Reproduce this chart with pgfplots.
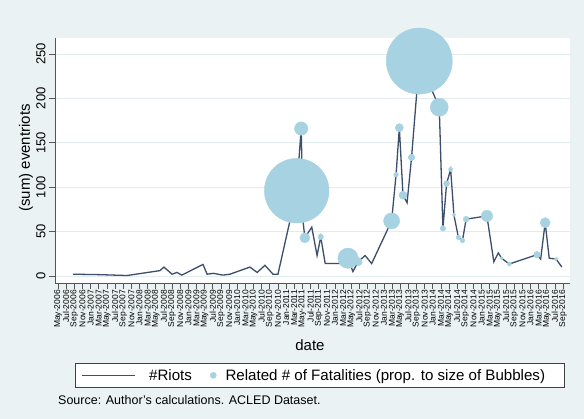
\documentclass[border=0pt]{standalone}
\usepackage{fontspec}
\setmainfont{Liberation Sans}
\usepackage{pgfplots}
\pgfplotsset{compat=1.18}
\usepackage{pgfplotstable}

\definecolor{bgblue}{RGB}{234,242,243}
\definecolor{gridc}{RGB}{226,236,239}
\definecolor{riotline}{RGB}{60,78,106}
\definecolor{bubble}{RGB}{166,210,226}
\definecolor{axisc}{RGB}{85,85,85}

% monthly riot counts (month 0 = May 2006)
\pgfplotstableread{
month riots
3.7   2
10.3  1.5
16.9  0.5
25.0  6
26.0  10
28.0  2
29.2  4
30.4  1
35.6  13
36.6  2
38.1  3
40.5  1
42.2  2
47.1  10
48.9  4
50.8  12
52.8  2
54.0  2
58.6  96
59.7  166
60.2  60
60.6  43
62.3  55
63.6  23
64.5  44
65.6  14
69.2  14
71.2  20
72.4  5
73.7  16
75.4  23
77.0  14
81.9  62
83.0  114
83.8  167
84.7  91
85.7  82.5
86.8  133.5
88.7  242
93.6  190
94.5  53.6
95.4  104
96.4  120
97.2  68.7
98.3  43.5
99.3  40
100.2 64
105.3 67.6
107.0 16
108.1 26
108.9 20
110.8 13.5
117.6 24
118.5 19
119.6 60
120.6 20
122.3 19
123.7 10
}\riots

% months with fatalities: riot count and number of fatalities
\pgfplotstableread{
month riots fat
58.6  96    957
59.7  166   41
60.6  43    23
64.5  44    7
71.2  20    95
73.7  16    15
81.9  62    59
83.0  114   5
83.8  167   15
84.7  91    15
86.8  133.5 10
88.7  242   1000
93.6  190   74
94.5  53.6  7
95.4  104   8
96.4  120   4
97.2  68.7  3
98.3  43.5  5
99.3  40    5
100.2 64    8
105.3 67.6  30
108.9 20    3
110.8 13.5  4
117.6 24    10
119.6 60    23
122.3 19    3
}\fatal

\begin{document}
\begin{tikzpicture}
\fill[bgblue] (0pt,0pt) rectangle (584pt,419pt);
\begin{axis}[
  at={(55pt,136pt)}, anchor=south west,
  scale only axis, width=515pt, height=245pt,
  axis background/.style={fill=white},
  clip=false,
  xmin=-0.74, xmax=125.7, ymin=-7.9, ymax=268,
  axis lines*=left,
  axis line style={axisc, line width=0.7pt},
  tick style={axisc, line width=0.7pt},
  tick align=outside, major tick length=6pt,
  ytick={0,50,...,250},
  ymajorgrids, major grid style={gridc, line width=0.9pt},
  /pgf/number format/assume math mode=true,
  yticklabel style={rotate=90, anchor=south, font=\fontsize{13}{14}\selectfont},
  xtick={0,2,...,124},
  xticklabels={May-2006,Jul-2006,Sep-2006,Nov-2006,
    Jan-2007,Mar-2007,May-2007,Jul-2007,Sep-2007,Nov-2007,
    Jan-2008,Mar-2008,May-2008,Jul-2008,Sep-2008,Nov-2008,
    Jan-2009,Mar-2009,May-2009,Jul-2009,Sep-2009,Nov-2009,
    Jan-2010,Mar-2010,May-2010,Jul-2010,Sep-2010,Nov-2010,
    Jan-2011,Mar-2011,May-2011,Jul-2011,Sep-2011,Nov-2011,
    Jan-2012,Mar-2012,May-2012,Jul-2012,Sep-2012,Nov-2012,
    Jan-2013,Mar-2013,May-2013,Jul-2013,Sep-2013,Nov-2013,
    Jan-2014,Mar-2014,May-2014,Jul-2014,Sep-2014,Nov-2014,
    Jan-2015,Mar-2015,May-2015,Jul-2015,Sep-2015,Nov-2015,
    Jan-2016,Mar-2016,May-2016,Jul-2016,Sep-2016},
  xticklabel style={rotate=90, anchor=east, inner sep=1pt, font=\fontsize{8.5}{9}\selectfont},
  xlabel={date},
  ylabel={(sum) eventriots},
  label style={font=\fontsize{15}{17}\selectfont},
  x label style={at={(axis description cs:0.495,-0.253)}, anchor=center},
  y label style={at={(axis description cs:-0.0563,0.51)}, anchor=center},
  legend columns=2,
  legend style={at={(axis description cs:0.0388,-0.377)}, anchor=west,
    draw=black!75, line width=0.6pt, fill=white,
    font=\fontsize{15.1}{16.5}\selectfont,
    inner xsep=6pt, inner ysep=3.5pt,
    /tikz/column 1/.style={column sep=12pt},
    /tikz/column 2/.style={column sep=16pt},
    /tikz/column 3/.style={column sep=7pt}},
]
\addplot[riotline, line width=1.3pt,
  legend image code/.code={\draw[riotline, line width=0.9pt] (0pt,0pt) -- (53pt,0pt);}]
  table[x=month, y=riots] {\riots};
\addlegendentry{\#Riots}

\addplot[scatter, only marks, mark=*, forget plot,
  scatter/use mapped color={draw=bubble, fill=bubble},
  visualization depends on={1.044*sqrt(\thisrow{fat}) \as \rad},
  scatter/@pre marker code/.append style={/tikz/mark size=\rad}]
  table[x=month, y=riots] {\fatal};

\addlegendimage{legend image code/.code={\fill[bubble] (3pt,0pt) circle (3pt);}}
\addlegendentry{Related \# of Fatalities (prop. to size of Bubbles)\hspace*{11pt}}
\end{axis}
\node[anchor=west, inner sep=0pt, font=\fontsize{12.5}{14}\selectfont] at (58pt,19.2pt) {Source: Author's calculations. ACLED Dataset.};
\end{tikzpicture}
\end{document}
